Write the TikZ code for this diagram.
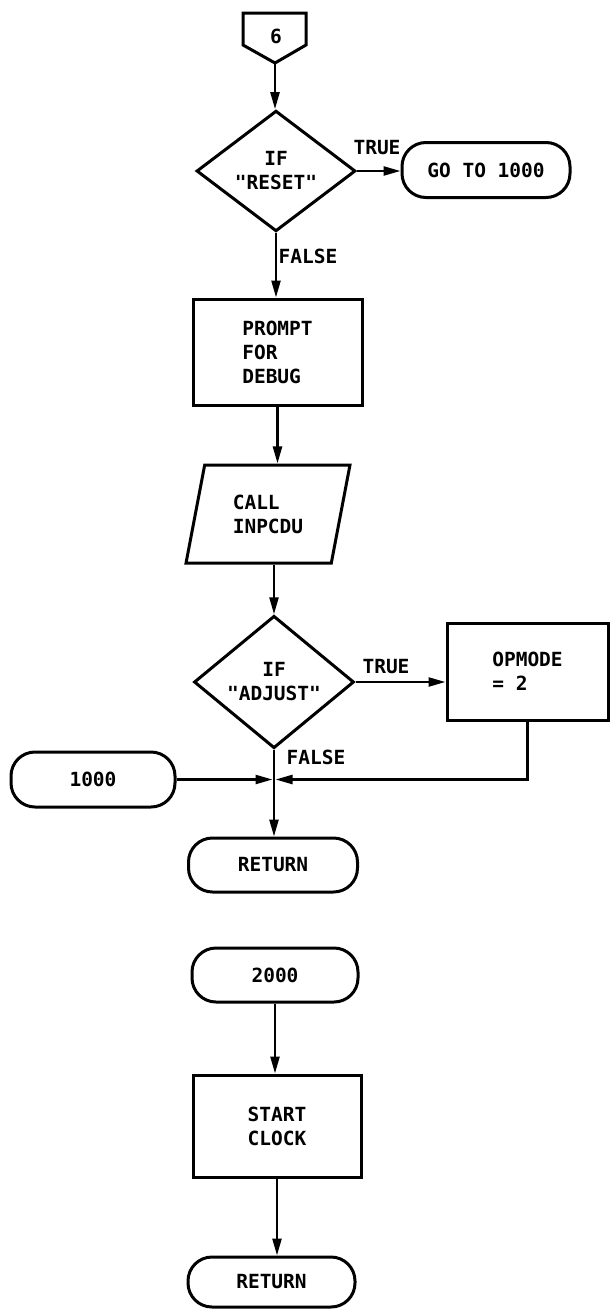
\documentclass[tikz,border=0pt]{standalone}
\usepackage{fontspec}
\setmonofont{DejaVu Sans Mono}
\usetikzlibrary{shapes.geometric,arrows.meta,calc}

\tikzset{
  txt/.style={font=\ttfamily\bfseries\fontsize{19.5}{24}\selectfont, inner sep=0pt},
  outline/.style={draw, line width=3pt, txt},
  procbox/.style={outline, rectangle, align=left},
  termbox/.style={outline, rectangle, rounded corners=24pt, align=center},
  decision/.style={outline, diamond, align=center},
  iobox/.style={outline, trapezium, trapezium left angle=75, trapezium right angle=105,
                trapezium stretches=true, align=left},
  flow/.style={line width=2.4pt, -{Triangle[length=17pt,width=9pt]}},
  lbl/.style={txt}
}

\begin{document}
\begin{tikzpicture}[x=1pt,y=-1pt]
\useasboundingbox (0,0) rectangle (611,1309);
\fill[white] (0,0) rectangle (611,1309);

% off-page connector
\draw[line width=3pt, line join=miter] (243,13) -- (306,13) -- (306,45) -- (275,63) -- (243,45) -- cycle;
\node[txt] (c6) at (276,36) {6};
\coordinate (c6tip) at (275,63);

% upper part
\node[decision, minimum width=159pt, minimum height=118pt] (d1) at (276,171) {IF\\"RESET"};
\node[termbox, minimum width=168pt, minimum height=55pt] (go) at (486,170) {GO TO 1000};
\node[procbox, minimum width=169pt, minimum height=106pt] (prompt) at (277.5,352) {PROMPT\\FOR\\DEBUG};
\node[iobox, minimum width=165pt, minimum height=98pt] (call) at (268,514) {CALL\\INPCDU};

\node[lbl] (t1) at (377,148) {TRUE};
\node[lbl] (f1) at (308,256) {FALSE};

\draw[flow] (c6tip) -- (c6tip |- d1.north);
\draw[flow] (d1.east) -- (d1.east -| go.west);
\draw[flow] (d1.south) -- (d1.south |- prompt.north);
\draw[flow] (prompt.south) -- (prompt.south |- call.north);

% adjust test
\node[decision, minimum width=160pt, minimum height=117pt] (d2) at (274,682) {IF\\"ADJUST"};
\node[procbox, minimum width=161pt, minimum height=97pt] (opm) at (527.5,671.5) {OPMODE\\= 2};
\node[termbox, minimum width=164pt, minimum height=55pt] (t1000) at (93,779.5) {1000};
\node[termbox, minimum width=169pt, minimum height=54pt] (ret1) at (273,865) {RETURN};

\node[lbl] (t2) at (386,667) {TRUE};
\node[lbl] (f2) at (316,757) {FALSE};

\draw[flow] (call.south -| d2.north) -- (d2.north);
\draw[flow] (d2.east) -- (d2.east -| opm.west);
\coordinate (j) at (d2.south |- t1000.east);
\draw[flow, shorten >=1.5pt] (t1000.east) -- (j);
\draw[flow, shorten >=1.5pt] (opm.south) |- (j);
\draw[flow] (d2.south) -- (d2.south |- ret1.north);

% clock start
\node[termbox, minimum width=166pt, minimum height=54pt] (t2000) at (275,975) {2000};
\node[procbox, minimum width=168pt, minimum height=102pt] (clock) at (277,1126) {START\\CLOCK};
\node[termbox, minimum width=167pt, minimum height=50pt] (ret2) at (271.5,1282) {RETURN};

\draw[flow] (t2000.south) -- (t2000.south |- clock.north);
\draw[flow] (clock.south) -- (clock.south |- ret2.north);
\end{tikzpicture}
\end{document}
